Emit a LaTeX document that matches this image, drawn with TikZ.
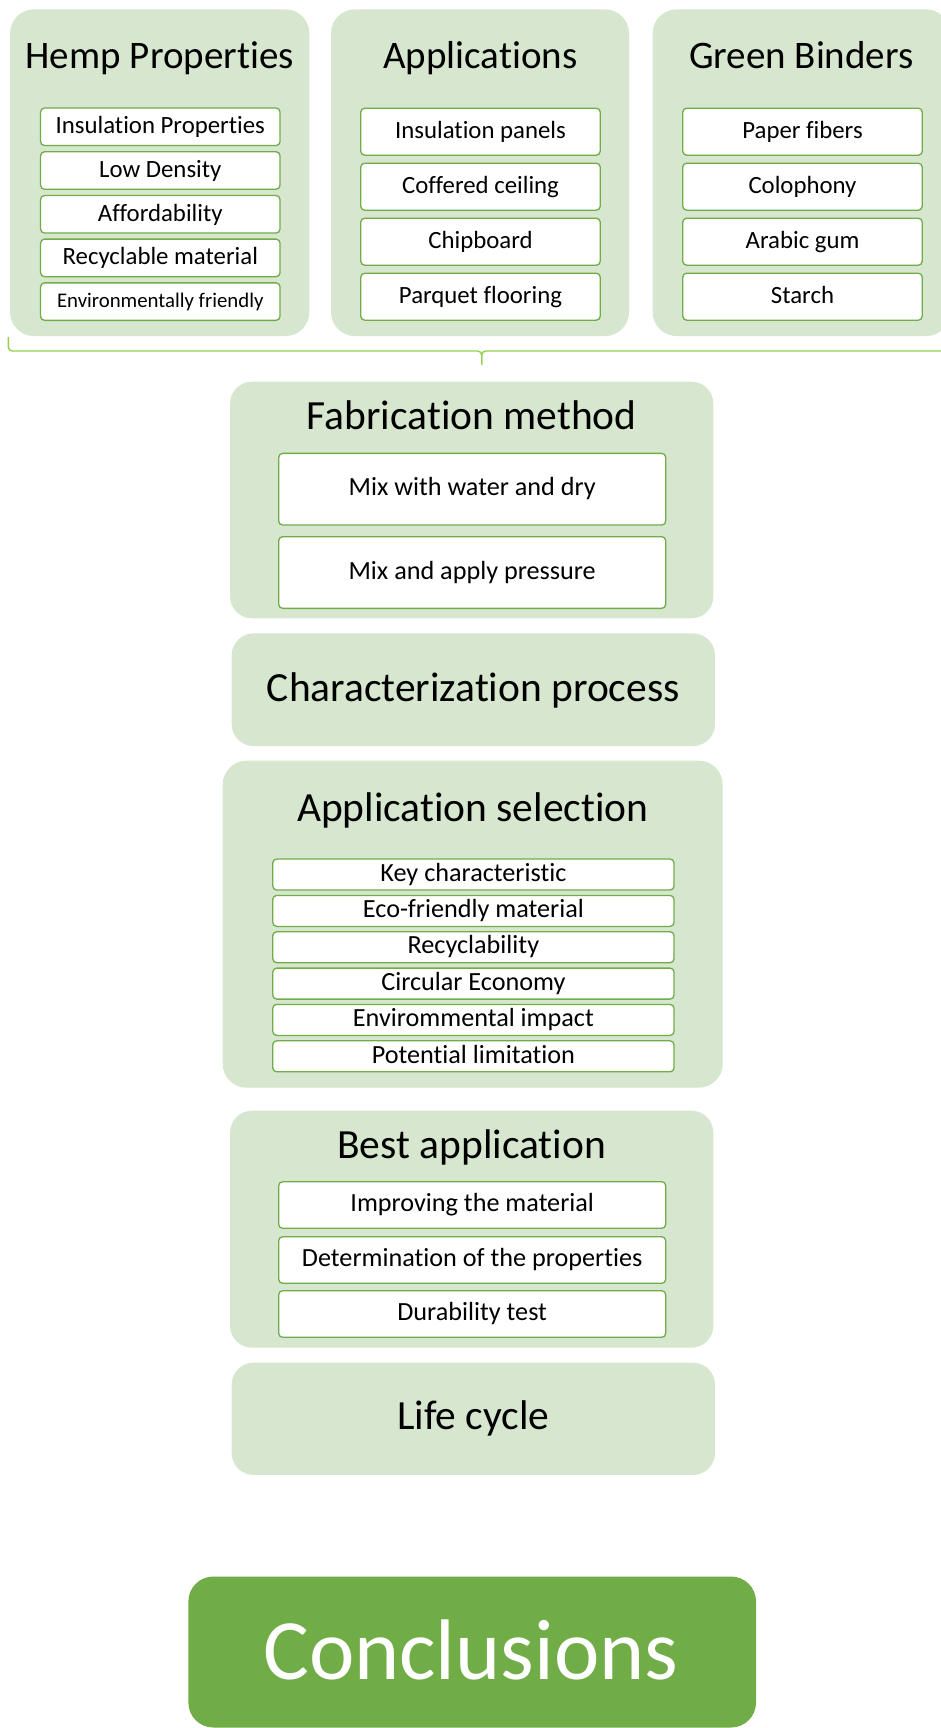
\documentclass[tikz,border=0pt]{standalone}
\usepackage{fontspec}
\setmainfont{Carlito}[Ligatures=NoCommon]
\definecolor{panelgreen}{RGB}{214,230,207}
\definecolor{boxgreen}{RGB}{112,173,71}
\definecolor{bracegreen}{RGB}{146,208,80}
\definecolor{concgreen}{RGB}{112,173,71}
\begin{document}
\begin{tikzpicture}[x=1pt,y=-1pt,
  panel/.style={fill=panelgreen, draw=none, rounded corners=24pt, inner sep=0pt, outer sep=0pt},
  ibox/.style={draw=boxgreen, line width=1.3pt, fill=white, rounded corners=4pt, inner sep=0pt, outer sep=0pt, text=black},
  ttl/.style={anchor=base, inner sep=0pt, text=black},
  ttop/.style={ttl, font=\fontsize{39}{39}\selectfont},
  tmid/.style={ttl, font=\fontsize{41.5}{42}\selectfont},
  fa/.style={font=\fontsize{24.8}{25}\selectfont, text height=18pt, text depth=4.5pt},
  fs/.style={font=\fontsize{20.8}{21}\selectfont, text height=15pt, text depth=4pt},
  fb/.style={font=\fontsize{26.2}{26}\selectfont, text height=18.5pt, text depth=5pt},
  topbox/.style={ibox, fa, minimum width=239.5pt, minimum height=37.5pt},
  appbox/.style={ibox, fa, minimum width=239.5pt, minimum height=47pt},
  fabbox/.style={ibox, fb, minimum width=387pt, minimum height=71.7pt},
  selbox/.style={ibox, fb, minimum width=401.3pt, minimum height=31pt},
  bestbox/.style={ibox, fb, minimum width=387pt, minimum height=46.6pt},
  brace/.style={draw=bracegreen, line width=1.4pt, rounded corners=4pt}
]
\useasboundingbox (0,0) rectangle (941,1728);
\clip (0,0) rectangle (941,1728);
\fill[white] (0,0) rectangle (941,1728);

% ---------- top panels ----------
\node[panel, minimum width=299.3pt, minimum height=326.7pt] (hemp) at (159.7,172.7) {};
\node[panel, minimum width=298pt, minimum height=326.7pt] (appl) at (480,172.7) {};
\node[panel, minimum width=297.3pt, minimum height=326.7pt] (green) at (801.3,172.7) {};

\node[ttop] (hempT) at (159.7,68.3) {Hemp Properties};
\node[ttop] (applT) at (480.3,68.3) {Applications};
\node[ttop] (greenT) at (801.3,68.3) {Green Binders};

\node[topbox] (h1) at (160.3,126.8) {Insulation Properties};
\node[topbox] (h2) at (160.3,170.5) {Low Density};
\node[topbox] (h3) at (160.3,214.3) {Affordability};
\node[topbox] (h4) at (160.3,257.9) {Recyclable material};
\node[topbox, fs] (h5) at (160.3,301.6) {Environmentally friendly};

\node[appbox] (a1) at (480.5,131.7) {Insulation panels};
\node[appbox] (a2) at (480.5,186.7) {Coffered ceiling};
\node[appbox] (a3) at (480.5,241.7) {Chipboard};
\node[appbox] (a4) at (480.5,296.7) {Parquet flooring};

\node[appbox] (g1) at (802.5,131.7) {Paper fibers};
\node[appbox] (g2) at (802.5,186.7) {Colophony};
\node[appbox] (g3) at (802.5,241.7) {Arabic gum};
\node[appbox] (g4) at (802.5,296.7) {Starch};

% ---------- brace ----------
\coordinate (bL) at (8.3,337);
\coordinate (bM) at (481.7,364.5);
\coordinate (bR) at (955,337);
\draw[brace] (bL) -- (8.3,351) -- (481.7,351) -- (bM);
\draw[brace] (bM) -- (481.7,351) -- (955,351) -- (bR);

% ---------- fabrication ----------
\node[panel, rounded corners=22pt, minimum width=483.3pt, minimum height=236.6pt] (fab) at (471.7,500) {};
\node[tmid] (fabT) at (471.7,429.3) {Fabrication method};
\node[fabbox] (f1) at (472.2,489.2) {Mix with water and dry};
\node[fabbox] (f2) at (472.2,572.5) {Mix and apply pressure};

% ---------- characterization ----------
\node[panel, rounded corners=22pt, minimum width=483.3pt, minimum height=112.7pt] (charz) at (473.3,689.7) {};
\node[tmid] (charzT) at (473.3,701.7) {Characterization process};

% ---------- application selection ----------
\node[panel, rounded corners=24pt, minimum width=500pt, minimum height=327pt] (sel) at (472.7,924.2) {};
\node[tmid] (selT) at (472.8,821) {Application selection};
\node[selbox] (s1) at (473.4,874.5) {Key characteristic};
\node[selbox] (s2) at (473.4,910.9) {Eco-friendly material};
\node[selbox] (s3) at (473.4,947.2) {Recyclability};
\node[selbox] (s4) at (473.4,983.6) {Circular Economy};
\node[selbox] (s5) at (473.4,1019.9) {Envirommental impact};
\node[selbox] (s6) at (473.4,1056.3) {Potential limitation};

% ---------- best application ----------
\node[panel, rounded corners=22pt, minimum width=483.3pt, minimum height=237pt] (best) at (471.7,1229.2) {};
\node[tmid] (bestT) at (471.7,1158.3) {Best application};
\node[bestbox] (b1) at (472.2,1205) {Improving the material};
\node[bestbox] (b2) at (472.2,1260) {Determination of the properties};
\node[bestbox] (b3) at (472.2,1314) {Durability test};

% ---------- life cycle ----------
\node[panel, rounded corners=22pt, minimum width=483.3pt, minimum height=112.3pt] (life) at (473.3,1418.8) {};
\node[tmid] (lifeT) at (473.3,1429.3) {Life cycle};

% ---------- conclusions ----------
\node[fill=concgreen, rounded corners=25pt, inner sep=0pt, minimum width=567.7pt, minimum height=151pt] (concl) at (472.2,1652) {};
\node[ttl, text=white, font=\fontsize{86}{86}\selectfont] (conclT) at (470.8,1679.3) {Conclusions};
\end{tikzpicture}
\end{document}
